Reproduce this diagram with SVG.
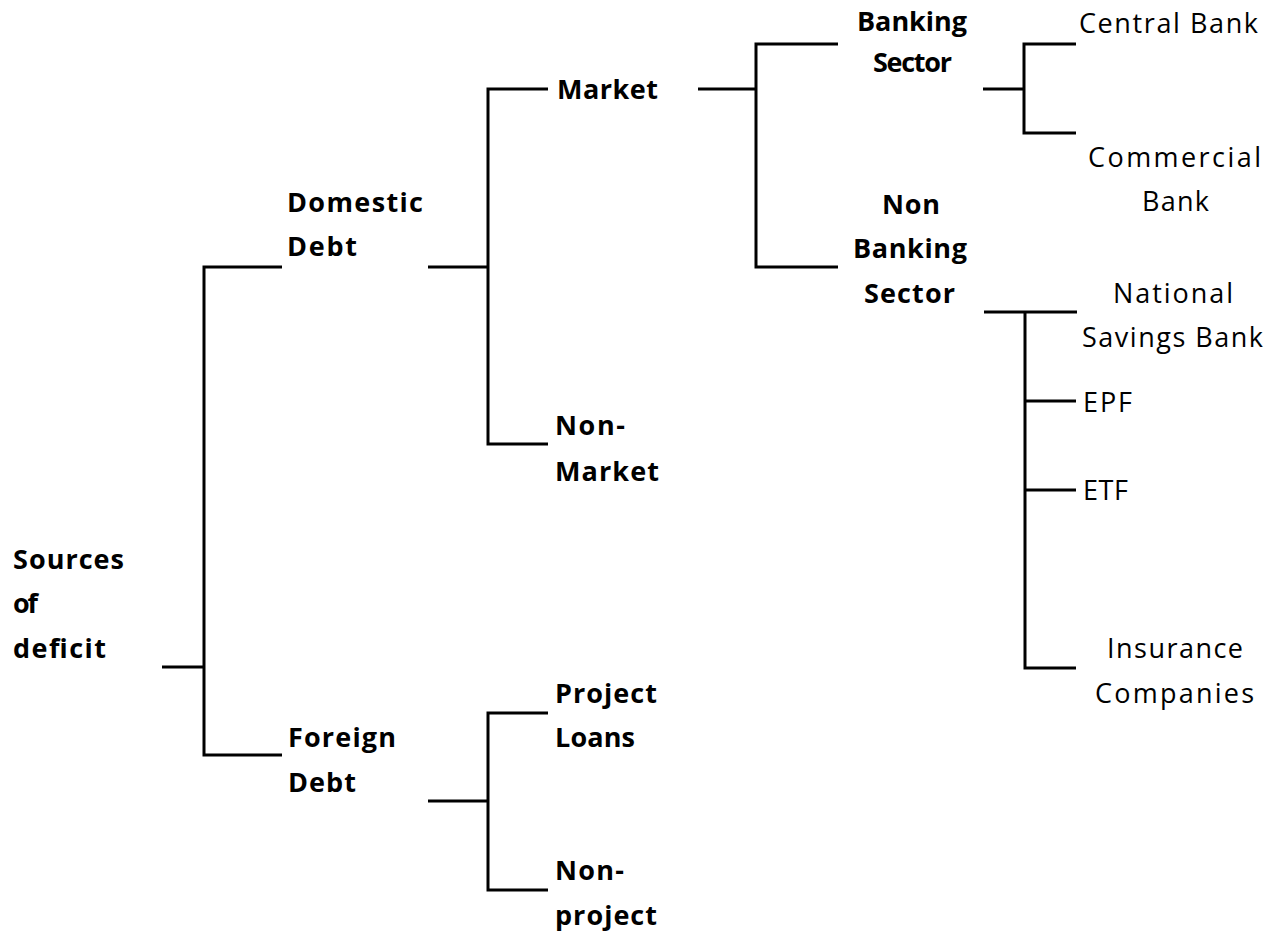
<svg xmlns="http://www.w3.org/2000/svg" width="1287" height="938" viewBox="0 0 1287 938">
  <style>
    .lbl { font-family: "Open Sans", "Liberation Sans", sans-serif; font-size: 27px; fill: #000; }
    .b { font-weight: bold; }
    .conn { fill: none; stroke: #000; stroke-width: 3; stroke-linecap: butt; stroke-linejoin: miter; }
  </style>
  <rect width="1287" height="938" fill="#fff"/>

  <!-- connectors (bracket tree) -->
  <g id="connectors" class="conn">
    <!-- root -->
    <path d="M162,667 H204 M282,267 H204 V755 H282"/>
    <!-- domestic debt -->
    <path d="M428,267 H488 M548,89 H488 V444 H548"/>
    <!-- market -->
    <path d="M698,89 H756 M838,44 H756 V267 H838"/>
    <!-- banking sector -->
    <path d="M983,89 H1024 M1076,44 H1024 V133 H1076"/>
    <!-- non banking sector -->
    <path d="M984,312 H1077 M1025,312 V668 H1076 M1025,401 H1076 M1025,490 H1076"/>
    <!-- foreign debt -->
    <path d="M428,801 H488 M548,713 H488 V890 H548"/>
  </g>

  <g id="node-sources">
    <text class="lbl b" x="13" y="569" textLength="111" lengthAdjust="spacing">Sources</text>
    <text class="lbl b" x="13" y="613" textLength="25" lengthAdjust="spacing">of</text>
    <text class="lbl b" x="13" y="658" textLength="93" lengthAdjust="spacing">deficit</text>
  </g>

  <g id="node-domestic">
    <text class="lbl b" x="287" y="212" textLength="136" lengthAdjust="spacing">Domestic</text>
    <text class="lbl b" x="287" y="256" textLength="70" lengthAdjust="spacing">Debt</text>
  </g>

  <g id="node-foreign">
    <text class="lbl b" x="288" y="747" textLength="108" lengthAdjust="spacing">Foreign</text>
    <text class="lbl b" x="288" y="792" textLength="68" lengthAdjust="spacing">Debt</text>
  </g>

  <g id="node-market">
    <text class="lbl b" x="557" y="99" textLength="101" lengthAdjust="spacing">Market</text>
  </g>

  <g id="node-nonmarket">
    <text class="lbl b" x="555" y="435" textLength="70" lengthAdjust="spacing">Non-</text>
    <text class="lbl b" x="555" y="481" textLength="104" lengthAdjust="spacing">Market</text>
  </g>

  <g id="node-project">
    <text class="lbl b" x="555" y="703" textLength="102" lengthAdjust="spacing">Project</text>
    <text class="lbl b" x="555" y="747" textLength="80" lengthAdjust="spacing">Loans</text>
  </g>

  <g id="node-nonproject">
    <text class="lbl b" x="555" y="880" textLength="69" lengthAdjust="spacing">Non-</text>
    <text class="lbl b" x="555" y="925" textLength="102" lengthAdjust="spacing">project</text>
  </g>

  <g id="node-banking">
    <text class="lbl b" x="857" y="31" textLength="110" lengthAdjust="spacing">Banking</text>
    <text class="lbl b" x="873" y="72" textLength="79" lengthAdjust="spacing">Sector</text>
  </g>

  <g id="node-nonbanking">
    <text class="lbl b" x="882" y="214" textLength="58" lengthAdjust="spacing">Non</text>
    <text class="lbl b" x="853" y="258" textLength="114" lengthAdjust="spacing">Banking</text>
    <text class="lbl b" x="864" y="303" textLength="91" lengthAdjust="spacing">Sector</text>
  </g>

  <g id="node-central">
    <text class="lbl" x="1079" y="33" textLength="179" lengthAdjust="spacing">Central Bank</text>
  </g>

  <g id="node-commercial">
    <text class="lbl" x="1088" y="167" textLength="173" lengthAdjust="spacing">Commercial</text>
    <text class="lbl" x="1142" y="211" textLength="67" lengthAdjust="spacing">Bank</text>
  </g>

  <g id="node-nsb">
    <text class="lbl" x="1113" y="303" textLength="120" lengthAdjust="spacing">National</text>
    <text class="lbl" x="1082" y="347" textLength="181" lengthAdjust="spacing">Savings Bank</text>
  </g>

  <g id="node-epf">
    <text class="lbl" x="1083" y="412" textLength="49" lengthAdjust="spacing">EPF</text>
  </g>

  <g id="node-etf">
    <text class="lbl" x="1083" y="500" textLength="45" lengthAdjust="spacing">ETF</text>
  </g>

  <g id="node-insurance">
    <text class="lbl" x="1107" y="658" textLength="136" lengthAdjust="spacing">Insurance</text>
    <text class="lbl" x="1095" y="703" textLength="159" lengthAdjust="spacing">Companies</text>
  </g>
</svg>
